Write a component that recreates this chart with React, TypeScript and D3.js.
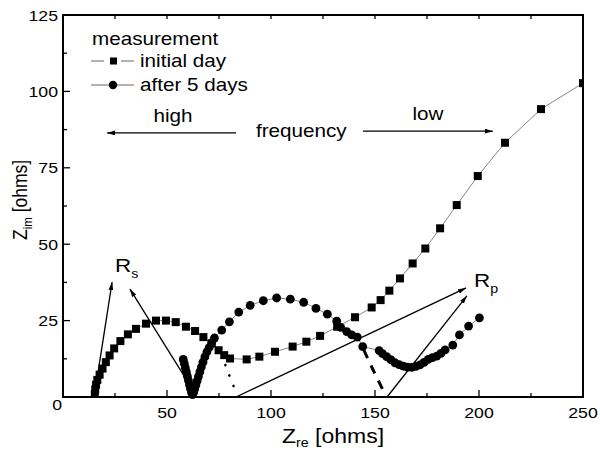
import * as d3 from 'd3';

// impedance spectra: [Z_re, Z_im] in ohms
const initialDay: [number, number][] = [
  [15.3, 1.0], [15.5, 2.5], [15.9, 4.0], [16.5, 5.6], [17.6, 7.3], [19.0, 9.3],
  [20.6, 11.4], [22.4, 13.6], [24.6, 15.9], [27.6, 18.3], [31.2, 20.5], [35.1, 22.3],
  [39.9, 24.0], [44.7, 25.0], [49.5, 25.0], [54.2, 24.5], [59.1, 23.0], [63.5, 21.6],
  [67.5, 19.6], [71.5, 17.5], [74.8, 15.3], [77.5, 13.7], [80.3, 12.6], [88.3, 12.3],
  [94.4, 13.2], [101.9, 14.8], [110.4, 16.5], [117.0, 18.1], [123.6, 20.0], [131.8, 23.0],
  [140.4, 26.1], [148.4, 29.3], [152.7, 31.7], [156.9, 34.8], [162.0, 38.8], [168.1, 43.7],
  [174.2, 48.6], [181.3, 55.2], [189.3, 62.8], [199.4, 72.3], [212.5, 83.2], [229.8, 94.2],
  [250.0, 102.7],
];

const after5Days: [number, number][] = [
  [57.8, 12.3], [58.3, 11.0], [58.8, 9.6], [59.3, 8.2], [59.8, 6.8], [60.3, 5.4],
  [60.8, 4.0], [61.3, 2.7], [61.8, 1.5], [62.3, 0.8], [62.8, 1.5], [63.3, 2.6],
  [63.9, 3.9], [64.5, 5.3], [65.1, 6.7], [65.8, 8.2], [66.5, 9.8], [67.3, 11.4],
  [68.2, 13.1], [69.2, 14.8], [70.3, 16.2], [71.5, 17.8], [72.8, 19.3], [76.3, 21.9],
  [80.0, 24.6], [84.5, 27.8], [90.0, 30.0], [96.3, 31.5], [102.7, 32.4], [109.3, 32.0],
  [115.7, 31.0], [121.6, 29.0], [127.1, 27.1], [131.6, 24.8], [133.5, 22.8], [136.4, 21.4],
  [138.8, 20.3], [141.5, 19.6], [144.1, 16.5], [152.0, 15.2], [153.6, 14.2], [155.6, 13.2],
  [157.6, 12.2], [159.6, 11.2], [161.6, 10.6], [163.6, 10.1], [165.6, 9.8], [167.6, 9.7],
  [169.6, 10.0], [171.6, 10.5], [173.6, 11.3], [175.6, 12.3], [177.6, 12.9], [179.7, 13.4],
  [181.7, 14.3], [183.7, 15.4], [187.4, 17.0], [190.6, 20.3], [195.0, 23.2], [200.2, 25.9],
];

// extrapolations of the arcs down to the real axis
const dottedArc: [number, number][] = [[76.8, 14.0], [78.4, 9.7], [80.6, 6.0], [82.4, 2.8], [83.2, 0.6]];
const dashedArc: [number, number][] = [[144.6, 15.4], [149.0, 9.0], [153.6, 2.6]];

// annotation arrows [from, to] in data units
const freqArrows: [number, number][][] = [
  [[83.2, 86.4], [21.2, 86.4]],
  [[144.2, 87.0], [206.7, 87.0]],
];
const rsArrows: [number, number][][] = [
  [[16.8, 7.9], [23.6, 37.6]],
  [[61.5, 3.3], [32.2, 35.3]],
];
const rpArrows: [number, number][][] = [
  [[83.2, 0], [193.8, 35.7]],
  [[155.8, 0], [194.2, 33.1]],
];

const xTicks = [50, 100, 150, 200, 250];
const yTicks = [25, 50, 75, 100, 125];

const W = 600;
const H = 452;
const margin = { top: 15, right: 17, bottom: 55, left: 63 };
const SX = 1.18; // the picture's text is a bit wide
const FONT = 'Liberation Sans, Arial, Helvetica, sans-serif';

function Label({ x, y, size, anchor = 'start', rotate = 0, children }: any) {
  return (
    <text
      transform={`translate(${x},${y}) scale(${SX},1)${rotate ? ` rotate(${rotate})` : ''}`}
      fontSize={size}
      textAnchor={anchor}
      fill="#000"
    >
      {children}
    </text>
  );
}

export default function App() {
  const xScale = d3.scaleLinear().domain([0, 250]).range([margin.left, W - margin.right]);
  const yScale = d3.scaleLinear().domain([0, 125]).range([H - margin.bottom, margin.top]);

  const line = d3.line<[number, number]>()
    .x(d => xScale(d[0]))
    .y(d => yScale(d[1]));
  const curve = d3.line<[number, number]>()
    .x(d => xScale(d[0]))
    .y(d => yScale(d[1]))
    .curve(d3.curveCatmullRom);

  const x0 = margin.left;
  const x1 = W - margin.right;
  const y0 = H - margin.bottom;
  const y1 = margin.top;

  const minorX = d3.range(25, 250, 50);
  const topTicks = d3.range(25, 250, 25);
  const minorY = d3.range(12.5, 125, 25);

  const arrow = (a: [number, number][], i: number, key: string) => (
    <line
      key={key + i}
      x1={xScale(a[0][0])}
      y1={yScale(a[0][1])}
      x2={xScale(a[1][0])}
      y2={yScale(a[1][1])}
      stroke="#000"
      strokeWidth={1.3}
      markerEnd="url(#head)"
    />
  );

  return (
    <div style={{ position: 'absolute', left: 0, top: 0 }}>
      <svg width={W} height={H} style={{ display: 'block', background: '#fff' }} fontFamily={FONT}>
        <defs>
          <marker id="head" viewBox="0 0 10 6" refX="10" refY="3" markerWidth="8" markerHeight="5" orient="auto" markerUnits="userSpaceOnUse">
            <path d="M0,0 L10,3 L0,6 Z" fill="#000" />
          </marker>
        </defs>

        {/* connecting lines */}
        <path d={line(initialDay) ?? ''} fill="none" stroke="#666" strokeWidth={0.8} />
        <path d={line(after5Days) ?? ''} fill="none" stroke="#666" strokeWidth={0.8} />

        {/* extrapolated arcs */}
        <path d={curve(dottedArc) ?? ''} fill="none" stroke="#000" strokeWidth={2.6} strokeDasharray="0.1 11" strokeLinecap="round" />
        <path d={curve(dashedArc) ?? ''} fill="none" stroke="#000" strokeWidth={3} strokeDasharray="9 8" />

        {/* arrows */}
        {freqArrows.map((a, i) => arrow(a, i, 'f'))}
        {rsArrows.map((a, i) => arrow(a, i, 's'))}
        {rpArrows.map((a, i) => arrow(a, i, 'p'))}

        {/* markers */}
        {initialDay.map((d, i) => (
          <rect key={'sq' + i} x={xScale(d[0]) - 4} y={yScale(d[1]) - 4} width={8} height={8} fill="#000" />
        ))}
        {after5Days.map((d, i) => (
          <circle key={'c' + i} cx={xScale(d[0])} cy={yScale(d[1])} r={4.4} fill="#000" />
        ))}

        {/* white out anything past the frame */}
        <rect x={x1 + 1} y={0} width={W - x1} height={H} fill="#fff" />

        {/* frame */}
        <rect x={x0} y={y1} width={x1 - x0} height={y0 - y1} fill="none" stroke="#000" strokeWidth={2} />

        {/* ticks */}
        {xTicks.map(t => (
          <line key={'xb' + t} x1={xScale(t)} x2={xScale(t)} y1={y0} y2={y0 - 7} stroke="#000" strokeWidth={1.3} />
        ))}
        {minorX.map(t => (
          <line key={'xm' + t} x1={xScale(t)} x2={xScale(t)} y1={y0} y2={y0 - 4} stroke="#000" strokeWidth={1.3} />
        ))}
        {topTicks.map(t => (
          <line key={'xt' + t} x1={xScale(t)} x2={xScale(t)} y1={y1} y2={y1 + 4} stroke="#000" strokeWidth={1.3} />
        ))}
        {yTicks.map(t => (
          <line key={'yl' + t} x1={x0} x2={x0 + 7} y1={yScale(t)} y2={yScale(t)} stroke="#000" strokeWidth={1.3} />
        ))}
        {minorY.map(t => (
          <line key={'ym' + t} x1={x0} x2={x0 + 4} y1={yScale(t)} y2={yScale(t)} stroke="#000" strokeWidth={1.3} />
        ))}

        {/* tick labels */}
        {xTicks.map(t => (
          <Label key={'xl' + t} x={xScale(t)} y={y0 + 21} size={15} anchor="middle">{t}</Label>
        ))}
        {yTicks.map(t => (
          <Label key={'yt' + t} x={x0 - 5} y={yScale(t) + 5.5} size={15} anchor="end">{t}</Label>
        ))}
        <Label x={x0 - 1} y={y0 + 13} size={15} anchor="end">0</Label>

        {/* axis titles */}
        <Label x={282} y={443} size={19.5}>
          Z<tspan fontSize={12} dy={4}>re</tspan><tspan dy={-4}> [ohms]</tspan>
        </Label>
        <text
          transform={`translate(27,240) scale(${SX},1) rotate(-90)`}
          fontSize={17.5}
          fill="#000"
        >
          Z<tspan fontSize={11.5} dy={4}>im</tspan><tspan dy={-4}> [ohms]</tspan>
        </text>

        {/* legend */}
        <Label x={92} y={45} size={17.5}>measurement</Label>
        <line x1={91} x2={104} y1={61} y2={61} stroke="#666" strokeWidth={1} />
        <line x1={121} x2={134} y1={61} y2={61} stroke="#666" strokeWidth={1} />
        <rect x={110} y={57.5} width={7} height={7} fill="#000" />
        <Label x={140} y={66.5} size={17.5}>initial day</Label>
        <line x1={91} x2={134} y1={85} y2={85} stroke="#666" strokeWidth={1} />
        <circle cx={113} cy={85} r={4.2} fill="#000" />
        <Label x={140} y={90.5} size={17.5}>after 5 days</Label>

        {/* frequency annotation */}
        <Label x={173} y={122} size={17.5} anchor="middle">high</Label>
        <Label x={256} y={137} size={17.5}>frequency</Label>
        <Label x={428} y={120} size={17.5} anchor="middle">low</Label>

        {/* R labels */}
        <Label x={115} y={272} size={19}>
          R<tspan fontSize={12} dy={6}>s</tspan>
        </Label>
        <Label x={474} y={287} size={19}>
          R<tspan fontSize={12} dy={6}>p</tspan>
        </Label>
      </svg>
    </div>
  );
}
